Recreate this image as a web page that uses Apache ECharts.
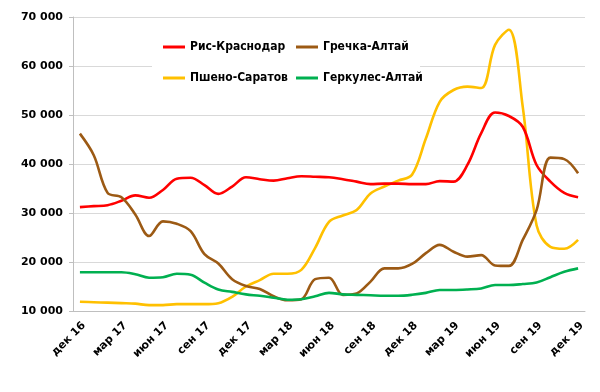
<!DOCTYPE html>
<html>
<head>
<meta charset="utf-8">
<script src="https://cdn.jsdelivr.net/npm/echarts@6/dist/echarts.min.js"></script>
<style>
html,body{margin:0;padding:0;background:#fff;}
#chart{width:600px;height:392px;}
</style>
</head>
<body>
<div id="chart"></div>
<script>
const months = [
  'дек 16','янв 17','фев 17','мар 17','апр 17','май 17','июн 17','июл 17','авг 17','сен 17','окт 17','ноя 17',
  'дек 17','янв 18','фев 18','мар 18','апр 18','май 18','июн 18','июл 18','авг 18','сен 18','окт 18','ноя 18',
  'дек 18','янв 19','фев 19','мар 19','апр 19','май 19','июн 19','июл 19','авг 19','сен 19','окт 19','ноя 19',
  'дек 19'
];
const seriesNames = ['Рис-Краснодар','Гречка-Алтай','Пшено-Саратов','Геркулес-Алтай'];
const ris = [31200,31400,31600,32500,33600,33100,34700,37000,37200,35700,33900,35400,
  37300,36900,36600,37100,37500,37400,37300,36900,36400,35900,36000,36000,
  35900,35900,36500,36400,39800,46300,50500,49800,47600,39800,36400,34100,33200];
const grechka = [46200,41800,34100,33200,29700,25300,28300,27800,26300,21600,19700,16500,
  15100,14500,13000,12200,12400,16500,16800,13300,13600,16000,18700,18700,
  19600,21800,23500,22100,21100,21400,19300,19200,24500,30600,41300,41000,38100];
const psheno = [11900,11800,11700,11600,11500,11200,11200,11400,11400,11400,11600,12900,
  15000,16300,17600,17600,18400,22900,28200,29500,30600,34000,35400,36600,
  37800,45200,52700,55100,55800,55500,64300,67400,51700,27500,23100,22700,24500];
const gerkules = [17900,17900,17900,17900,17500,16800,16900,17600,17400,15800,14400,13900,
  13400,13100,12700,12300,12400,13000,13700,13400,13300,13200,13100,13100,
  13300,13700,14300,14300,14400,14600,15300,15300,15500,15800,16900,18000,18700];
const yTicks = [10000,20000,30000,40000,50000,60000,70000];
const colors = ['#ff0000','#9c5a14','#ffc000','#00b050'];
const seriesData = [ris, grechka, psheno, gerkules];

const font = 'DejaVu Sans';
const chart = echarts.init(document.getElementById('chart'));
function legendCfg(names, left) {
  return {
    data: names,
    orient: 'vertical',
    left: left,
    top: 41,
    padding: 0,
    itemGap: 19,
    itemWidth: 22,
    itemHeight: 3,
    icon: 'rect',
    textStyle: {fontFamily: 'DejaVu Sans Condensed, DejaVu Sans', fontWeight: 'bold', fontSize: 12, color: '#000'}
  };
}
chart.setOption({
  animation: false,
  backgroundColor: '#fff',
  color: colors,
  graphic: [{
    type: 'rect', left: 152, top: 32, z: 1,
    shape: {width: 268, height: 58},
    style: {fill: '#fff'}
  }],
  legend: [
    legendCfg([seriesNames[0], seriesNames[2]], 163),
    legendCfg([seriesNames[1], seriesNames[3]], 296)
  ],
  grid: {left: 73, right: 15, top: 17, bottom: 81, containLabel: false},
  xAxis: {
    type: 'category',
    boundaryGap: true,
    data: months,
    axisLine: {lineStyle: {color: '#bfbfbf', width: 1}},
    axisTick: {interval: 2, length: 5, lineStyle: {color: '#bfbfbf'}},
    axisLabel: {
      interval: 2, rotate: 45, margin: 9, verticalAlign: 'top',
      fontFamily: font, fontWeight: 'bold', fontSize: 11, color: '#000'
    },
    splitLine: {show: false}
  },
  yAxis: {
    type: 'value',
    min: yTicks[0],
    max: yTicks[yTicks.length - 1],
    interval: 10000,
    axisLine: {show: true, lineStyle: {color: '#bfbfbf'}},
    axisTick: {show: true, length: 4, inside: false, lineStyle: {color: '#bfbfbf'}},
    axisLabel: {
      margin: 10,
      fontFamily: font, fontWeight: 'bold', fontSize: 11, color: '#000',
      formatter: v => Math.round(v / 1000) + ' 000'
    },
    splitLine: {lineStyle: {color: '#d9d9d9', width: 1}}
  },
  series: seriesNames.map((n, k) => ({
    name: n,
    type: 'line',
    data: seriesData[k],
    smooth: 0.35,
    symbol: 'none',
    lineStyle: {width: 2.6, color: colors[k]},
    itemStyle: {color: colors[k]},
    z: k === 2 ? 2 : 3
  }))
});
</script>
</body>
</html>
